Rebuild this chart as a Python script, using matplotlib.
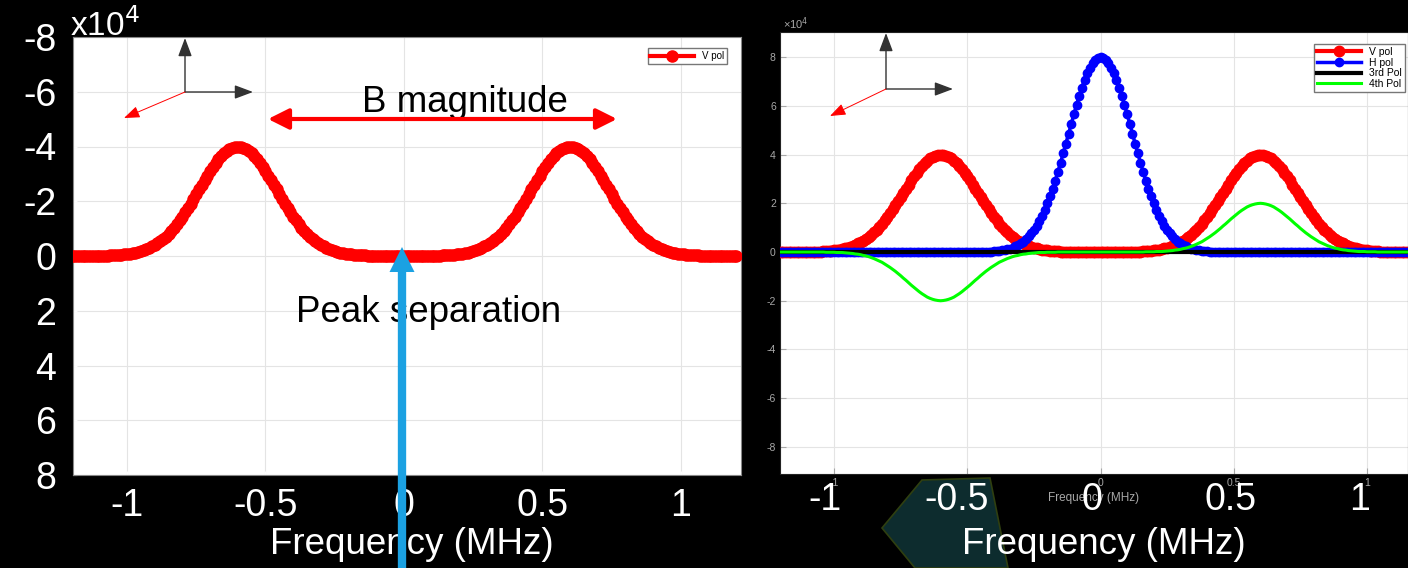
import matplotlib
matplotlib.use("Agg")
import matplotlib.pyplot as plt
import numpy as np
from matplotlib.patches import FancyArrowPatch, Polygon

plt.rcParams['font.family'] = ['Liberation Sans', 'DejaVu Sans']
plt.rcParams['axes.unicode_minus'] = False

# frequency grid (MHz), 0.01 step
freq = np.linspace(-1.2, 1.2, 241)

# V pol (x1e4), two peaks at -0.6 and +0.6
v_pol = ([0.0] * 9 + [
    0.01, 0.01, 0.01, 0.01, 0.01, 0.02, 0.02, 0.03, 0.04, 0.04, 0.06, 0.07, 0.08,
    0.10, 0.12, 0.15, 0.18, 0.21, 0.25, 0.29, 0.35, 0.40, 0.47, 0.54, 0.62, 0.71,
    0.81, 0.92, 1.04, 1.16, 1.30, 1.44, 1.59, 1.75, 1.91, 2.08, 2.25, 2.43, 2.60,
    2.77, 2.94, 3.10, 3.25, 3.40, 3.53, 3.65, 3.75, 3.84, 3.91, 3.96, 3.99, 4.00,
    3.99, 3.96, 3.91, 3.84, 3.75, 3.65, 3.53, 3.40, 3.25, 3.10, 2.94, 2.77, 2.60,
    2.43, 2.25, 2.08, 1.91, 1.75, 1.59, 1.44, 1.30, 1.16, 1.04, 0.92, 0.81, 0.71,
    0.62, 0.54, 0.47, 0.40, 0.35, 0.29, 0.25, 0.21, 0.18, 0.15, 0.12, 0.10, 0.08,
    0.07, 0.06, 0.04, 0.04, 0.03, 0.02, 0.02, 0.01, 0.01, 0.01, 0.01, 0.01,
] + [0.0] * 17 + [
    0.01, 0.01, 0.01, 0.01, 0.01, 0.02, 0.02, 0.03, 0.04, 0.04, 0.06, 0.07, 0.08,
    0.10, 0.12, 0.15, 0.18, 0.21, 0.25, 0.29, 0.35, 0.40, 0.47, 0.54, 0.62, 0.71,
    0.81, 0.92, 1.04, 1.16, 1.30, 1.44, 1.59, 1.75, 1.91, 2.08, 2.25, 2.43, 2.60,
    2.77, 2.94, 3.10, 3.25, 3.40, 3.53, 3.65, 3.75, 3.84, 3.91, 3.96, 3.99, 4.00,
    3.99, 3.96, 3.91, 3.84, 3.75, 3.65, 3.53, 3.40, 3.25, 3.10, 2.94, 2.77, 2.60,
    2.43, 2.25, 2.08, 1.91, 1.75, 1.59, 1.44, 1.30, 1.16, 1.04, 0.92, 0.81, 0.71,
    0.62, 0.54, 0.47, 0.40, 0.35, 0.29, 0.25, 0.21, 0.18, 0.15, 0.12, 0.10, 0.08,
    0.07, 0.06, 0.04, 0.04, 0.03, 0.02, 0.02, 0.01, 0.01, 0.01, 0.01, 0.01,
] + [0.0] * 9)

# H pol (x1e4), single peak at 0
h_pol = [0.0] * 75 + [
    0.01, 0.01, 0.01, 0.02, 0.02, 0.03, 0.04, 0.05, 0.07, 0.09, 0.11, 0.14, 0.18,
    0.23, 0.28, 0.35, 0.43, 0.53, 0.64, 0.77, 0.91, 1.08, 1.27, 1.49, 1.73, 2.00,
    2.28, 2.60, 2.93, 3.29, 3.66, 4.05, 4.45, 4.85, 5.26, 5.65, 6.04, 6.41, 6.75,
    7.06, 7.33, 7.57, 7.75, 7.89, 7.97, 8.00,
    7.97, 7.89, 7.75, 7.57, 7.33, 7.06,
    6.75, 6.41, 6.04, 5.65, 5.26, 4.85, 4.45, 4.05, 3.66, 3.29, 2.93, 2.60, 2.28,
    2.00, 1.73, 1.49, 1.27, 1.08, 0.91, 0.77, 0.64, 0.53, 0.43, 0.35, 0.28, 0.23,
    0.18, 0.14, 0.11, 0.09, 0.07, 0.05, 0.04, 0.03, 0.02, 0.02, 0.01, 0.01, 0.01,
] + [0.0] * 75

# 3rd pol: flat
pol_3 = [0.0] * 241

# 4th pol: dip at -0.6, bump at +0.6
pol_4 = [0.0] * 17 + [
    -0.01, -0.01, -0.01, -0.01, -0.02, -0.02, -0.02, -0.03, -0.04, -0.05, -0.06, -0.08, -0.09,
    -0.11, -0.14, -0.16, -0.19, -0.23, -0.27, -0.32, -0.37, -0.42, -0.49, -0.56, -0.63, -0.71,
    -0.79, -0.88, -0.97, -1.07, -1.16, -1.26, -1.36, -1.45, -1.54, -1.63, -1.71, -1.78, -1.85,
    -1.90, -1.94, -1.97, -1.99, -2.00,
    -1.99, -1.97, -1.94, -1.90,
    -1.85, -1.78, -1.71, -1.63, -1.54, -1.45, -1.36, -1.26, -1.16, -1.07, -0.97, -0.88, -0.79,
    -0.71, -0.63, -0.56, -0.49, -0.42, -0.37, -0.32, -0.27, -0.23, -0.19, -0.16, -0.14, -0.11,
    -0.09, -0.08, -0.06, -0.05, -0.04, -0.03, -0.02, -0.02, -0.02, -0.01, -0.01, -0.01, -0.01,
] + [0.0] * 33 + [
    0.01, 0.01, 0.01, 0.01, 0.02, 0.02, 0.02, 0.03, 0.04, 0.05, 0.06, 0.08, 0.09,
    0.11, 0.14, 0.16, 0.19, 0.23, 0.27, 0.32, 0.37, 0.42, 0.49, 0.56, 0.63, 0.71,
    0.79, 0.88, 0.97, 1.07, 1.16, 1.26, 1.36, 1.45, 1.54, 1.63, 1.71, 1.78, 1.85,
    1.90, 1.94, 1.97, 1.99, 2.00,
    1.99, 1.97, 1.94, 1.90,
    1.85, 1.78, 1.71, 1.63, 1.54, 1.45, 1.36, 1.26, 1.16, 1.07, 0.97, 0.88, 0.79,
    0.71, 0.63, 0.56, 0.49, 0.42, 0.37, 0.32, 0.27, 0.23, 0.19, 0.16, 0.14, 0.11,
    0.09, 0.08, 0.06, 0.05, 0.04, 0.03, 0.02, 0.02, 0.02, 0.01, 0.01, 0.01, 0.01,
] + [0.0] * 17

x_ticks = [-1, -0.5, 0, 0.5, 1]
x_tick_labels = ['-1', '-0.5', '0', '0.5', '1']
y_ticks = [-8, -6, -4, -2, 0, 2, 4, 6, 8]
y_tick_labels = ['-8', '-6', '-4', '-2', '0', '2', '4', '6', '8']

W, H = 1408, 568


def fx(x):
    return x / W


def fy(y):
    return 1 - y / H


fig = plt.figure(figsize=(W / 100, H / 100), dpi=100, facecolor='black')

# satellite panel in the background
fig.patches.append(Polygon([(fx(882), fy(528)), (fx(922), fy(480)), (fx(990), fy(478)),
                            (fx(1008), fy(568)), (fx(915), fy(568))],
                           closed=True, transform=fig.transFigure,
                           facecolor='#0d2c2e', edgecolor='#2f3f10', lw=1.2, zorder=0))

# ---------------- left panel ----------------
ax1 = fig.add_axes([fx(73), fy(475), fx(741) - fx(73), fy(37) - fy(475)])
ax1.set_facecolor('white')
ax1.plot(freq, -np.array(v_pol), color='red', marker='o', ms=8, lw=3, label='V pol', zorder=3)
ax1.set_xlim(-1.195, 1.217)
ax1.set_ylim(8.0, -7.93)
ax1.set_xticks(x_ticks)
ax1.set_xticklabels(x_tick_labels)
ax1.set_yticks(y_ticks)
ax1.set_yticklabels(y_tick_labels)
ax1.tick_params(axis='both', colors='white', labelsize=27, direction='in', length=3)
ax1.tick_params(axis='y', pad=12)
ax1.tick_params(axis='x', pad=9)
ax1.grid(True, color='#e4e4e4', lw=0.8)
for s in ax1.spines.values():
    s.set_color('#888888')
ax1.legend(loc='upper right', bbox_to_anchor=(fx(727), fy(48)), bbox_transform=fig.transFigure,
           borderaxespad=0, fontsize=7, handlelength=4.5, fancybox=False, framealpha=1,
           edgecolor='#777777', borderpad=0.3)
fig.text(fx(70), fy(8), 'x10$^4$', color='white', fontsize=24, ha='left', va='top')
fig.text(fx(412), fy(545), 'Frequency (MHz)', color='white', fontsize=26.5, ha='center', va='center')
fig.text(fx(465), fy(102), 'B magnitude', color='black', fontsize=26.5, ha='center', va='center', zorder=4)
fig.text(fx(429), fy(313), 'Peak separation', color='black', fontsize=26.5, ha='center', va='center', zorder=4)

# ---------------- right panel ----------------
ax2 = fig.add_axes([fx(780), fy(474), 1 - fx(780), fy(32) - fy(474)])
ax2.set_facecolor('white')
ax2.plot(freq, v_pol, color='red', marker='o', ms=7.5, lw=3, label='V pol', zorder=3)
ax2.plot(freq, h_pol, color='blue', marker='o', ms=6, lw=2.5, label='H pol', zorder=4)
ax2.plot(freq, pol_3, color='black', lw=3, label='3rd Pol', zorder=5)
ax2.plot(freq, pol_4, color='#00ff00', lw=2.2, label='4th Pol', zorder=6)
ax2.set_xlim(-1.2026, 1.1538)
ax2.set_ylim(-9.11, 9.03)
ax2.set_xticks(x_ticks)
ax2.set_xticklabels(x_tick_labels)
ax2.set_yticks(y_ticks)
ax2.set_yticklabels(y_tick_labels)
ax2.tick_params(axis='both', colors='#a8a8a8', labelsize=7.5, direction='in', length=4, pad=3)
ax2.set_xlabel('Frequency (MHz)', color='#a8a8a8', fontsize=8.5, labelpad=3)
ax2.grid(True, color='#e4e4e4', lw=0.8)
for s in ax2.spines.values():
    s.set_color('#222222')
ax2.legend(loc='upper right', bbox_to_anchor=(fx(1405), fy(44)), bbox_transform=fig.transFigure,
           borderaxespad=0, fontsize=7.5, handlelength=4.2, fancybox=False, framealpha=1,
           edgecolor='#777777', borderpad=0.3, labelspacing=0.05)
fig.text(fx(783), fy(32), '×10$^4$', color='#a8a8a8', fontsize=8, ha='left', va='bottom')

# big white labels on the right panel
for lab, xc in zip(x_tick_labels, [825, 957, 1092, 1231, 1360]):
    fig.text(fx(xc), fy(500), lab, color='white', fontsize=27, ha='center', va='center', zorder=4)
fig.text(fx(1104), fy(545), 'Frequency (MHz)', color='white', fontsize=26.5, ha='center', va='center')


# ---------------- arrows ----------------
def fig_arrow(x0, y0, x1, y1, **kw):
    fig.add_artist(FancyArrowPatch((fx(x0), fy(y0)), (fx(x1), fy(y1)), transform=fig.transFigure,
                                   shrinkA=0, shrinkB=0, **kw))


for ox, oy, ux, rx, ex, ey in [(185, 92, 38, 253, 124, 118), (886, 89, 33, 953, 830, 116)]:
    fig_arrow(ox, oy, ox, ux, arrowstyle='-|>,head_length=0.8,head_width=0.3', mutation_scale=14,
              color='#333333', lw=1, zorder=5)
    fig_arrow(ox, oy, rx, oy, arrowstyle='-|>,head_length=0.8,head_width=0.3', mutation_scale=14,
              color='#333333', lw=1, zorder=5)
    fig_arrow(ox, oy, ex, ey, arrowstyle='-|>,head_length=0.8,head_width=0.3', mutation_scale=12,
              color='red', lw=0.7, zorder=5)

fig_arrow(268, 119, 617, 119, arrowstyle='<|-|>,head_length=0.5,head_width=0.25', mutation_scale=25,
          color='red', lw=3, zorder=5)
fig_arrow(402, 568, 402, 247, arrowstyle='simple,head_length=0.9,head_width=0.9,tail_width=0.3',
          mutation_scale=20, color='#1ba1e2', lw=0, zorder=6)

fig.savefig('out.png', dpi=100, facecolor='black')
